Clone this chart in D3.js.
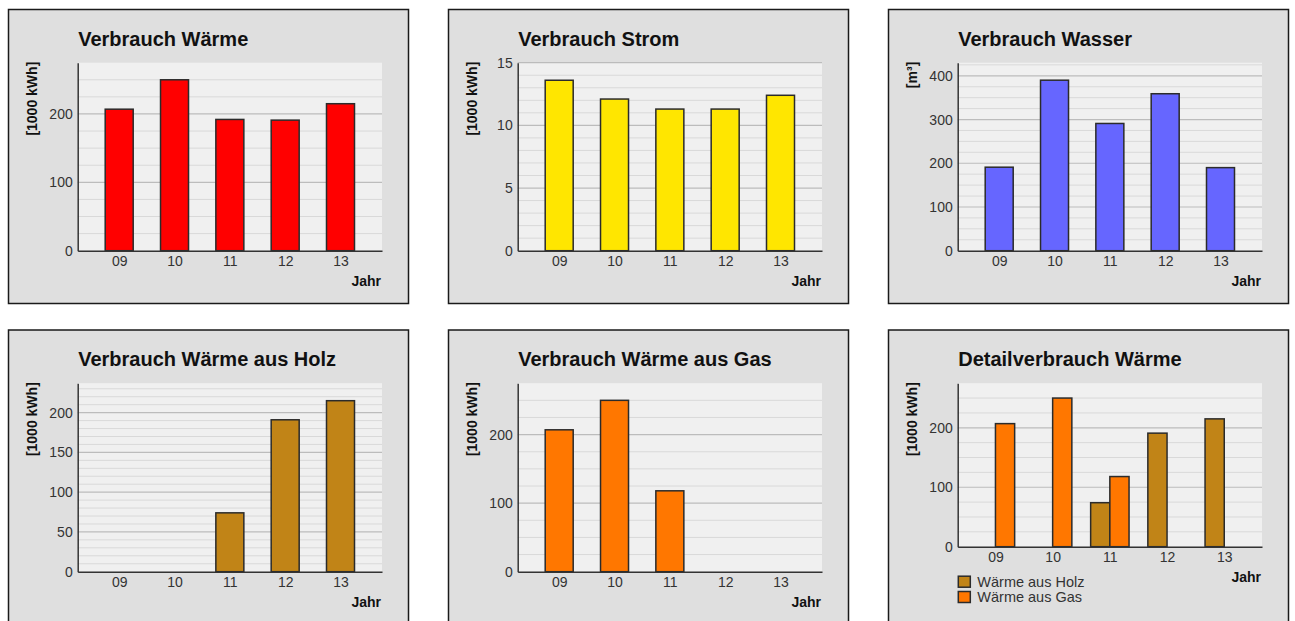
<!DOCTYPE html>
<html>
<head>
<meta charset="utf-8">
<script src="https://cdn.jsdelivr.net/npm/d3@7"></script>
<style>
  html, body { margin: 0; padding: 0; background: #ffffff; }
  svg { display: block; font-family: "Liberation Sans", Arial, sans-serif; }
</style>
</head>
<body>
<svg id="chart" width="1295" height="621"></svg>
<script>
// Jahre (x-Achse)
const years = ["09", "10", "11", "12", "13"];

// Verbrauchswerte
const waerme = [207, 250, 192, 191, 215];        // 1000 kWh
const strom = [13.6, 12.1, 11.3, 11.3, 12.4];    // 1000 kWh
const wasser = [191, 390, 291, 359, 190];        // m³
const waermeHolz = [0, 0, 74, 191, 215];         // 1000 kWh
const waermeGas = [207, 250, 118, 0, 0];         // 1000 kWh

// Achsenbeschriftungen der y-Achsen
const ticksWaerme = [0, 100, 200];
const ticksStrom = [0, 5, 10, 15];
const ticksWasser = [0, 100, 200, 300, 400];
const ticksHolz = [0, 50, 100, 150, 200];
const ticksGas = [0, 100, 200];
const ticksDetail = [0, 100, 200];

const seriesNames = ["Wärme aus Holz", "Wärme aus Gas"];

const COLORS = {
  waerme: "#ff0000",
  strom: "#ffe600",
  wasser: "#6666ff",
  holz: "#c18417",
  gas: "#ff7700"
};

const svg = d3.select("#chart");

const PANEL_W = 400, PANEL_H = 294;
const FONT = "Liberation Sans, Arial, sans-serif";

function drawPanel(opt) {
  const g = svg.append("g").attr("transform", `translate(${opt.x},${opt.y})`);

  g.append("rect")
    .attr("width", PANEL_W).attr("height", PANEL_H)
    .attr("fill", "#dfdfdf")
    .attr("stroke", "#1a1a1a").attr("stroke-width", 1.5);

  const left = 69.2, top = 53.2, right = 373.5;
  const bottom = opt.bottom;

  const x = d3.scalePoint().domain(years).range([left, right]).padding(opt.padding);
  const y = d3.scaleLinear().domain([0, opt.yMax]).range([bottom, top]);

  // Diagrammfläche
  g.append("rect")
    .attr("x", left).attr("y", top)
    .attr("width", right - left).attr("height", bottom - top)
    .attr("fill", "#f0f0f0");

  // Hilfslinien: feine Teilung und beschriftete Werte
  const minor = d3.range(opt.minor, opt.yMax, opt.minor).filter(v => !opt.ticks.includes(v));
  g.append("g").selectAll("line").data(minor).join("line")
    .attr("x1", left).attr("x2", right)
    .attr("y1", d => y(d)).attr("y2", d => y(d))
    .attr("stroke", "#d9d9d9").attr("stroke-width", 1);
  g.append("g").selectAll("line").data(opt.ticks.filter(v => v > 0)).join("line")
    .attr("x1", left).attr("x2", right)
    .attr("y1", d => y(d)).attr("y2", d => y(d))
    .attr("stroke", "#bcbcbc").attr("stroke-width", 1.2);

  // Balken
  const bw = opt.barWidth;
  opt.series.forEach((s, si) => {
    const offset = opt.series.length === 1 ? -bw / 2 : (si - opt.series.length / 2) * bw;
    const data = years.map((yr, i) => ({ yr, v: s.values[i] })).filter(d => d.v > 0);
    g.append("g").selectAll("rect").data(data).join("rect")
      .attr("x", d => x(d.yr) + offset)
      .attr("y", d => y(d.v))
      .attr("width", bw)
      .attr("height", d => y(0) - y(d.v))
      .attr("fill", s.color)
      .attr("stroke", "#2b2b2b").attr("stroke-width", 1.5);
  });

  // Achsen
  const yAxis = g.append("g").attr("transform", `translate(${left},0)`)
    .call(d3.axisLeft(y).tickValues(opt.ticks).tickSize(0).tickPadding(5).tickSizeOuter(0));
  yAxis.select(".domain").attr("stroke", "#333").attr("stroke-width", 1.5);
  yAxis.selectAll("text").attr("font-size", 14).attr("fill", "#333").attr("font-family", FONT);

  const xAxis = g.append("g").attr("transform", `translate(0,${bottom})`)
    .call(d3.axisBottom(x).tickSize(0).tickPadding(5.5).tickSizeOuter(0));
  xAxis.select(".domain").attr("stroke", "#333").attr("stroke-width", 1.5);
  xAxis.selectAll("text").attr("font-size", 14).attr("fill", "#333").attr("font-family", FONT);

  // Titel
  g.append("text")
    .attr("x", left + 0.5).attr("y", 36)
    .attr("font-size", 20).attr("font-weight", "bold").attr("fill", "#111")
    .text(opt.title);

  // Einheit
  g.append("text")
    .attr("transform", `translate(23.2,${top - 1}) rotate(-90)`)
    .attr("text-anchor", "end").attr("dy", "0.35em")
    .attr("font-size", 14).attr("font-weight", "bold").attr("fill", "#111")
    .text(opt.unit);

  // Achsentitel x
  g.append("text")
    .attr("x", right - 1).attr("y", bottom + 35)
    .attr("text-anchor", "end")
    .attr("font-size", 14).attr("font-weight", "bold").attr("fill", "#111")
    .text("Jahr");

  // Legende
  if (opt.legend) {
    const lg = g.append("g").attr("transform", `translate(${left + 0.6},${bottom + 29.5})`);
    const items = lg.selectAll("g").data(opt.series).join("g")
      .attr("transform", (d, i) => `translate(0,${i * 15.3})`);
    items.append("rect")
      .attr("width", 12).attr("height", 11)
      .attr("fill", d => d.color)
      .attr("stroke", "#2b2b2b").attr("stroke-width", 1.5);
    items.append("text")
      .attr("x", 19).attr("y", 10.5)
      .attr("font-size", 14.5).attr("fill", "#333")
      .text(d => d.name);
  }
}

const col = [8.5, 448.5, 888.5];
const row = [9.5, 330];

drawPanel({
  x: col[0], y: row[0], bottom: 241.2, padding: 0.75, barWidth: 28,
  title: "Verbrauch Wärme", unit: "[1000 kWh]",
  yMax: 275, minor: 25, ticks: ticksWaerme,
  series: [{ name: "Wärme", values: waerme, color: COLORS.waerme }]
});
drawPanel({
  x: col[1], y: row[0], bottom: 241.2, padding: 0.75, barWidth: 28,
  title: "Verbrauch Strom", unit: "[1000 kWh]",
  yMax: 15, minor: 1, ticks: ticksStrom,
  series: [{ name: "Strom", values: strom, color: COLORS.strom }]
});
drawPanel({
  x: col[2], y: row[0], bottom: 241.2, padding: 0.75, barWidth: 28,
  title: "Verbrauch Wasser", unit: "[m³]",
  yMax: 430, minor: 25, ticks: ticksWasser,
  series: [{ name: "Wasser", values: wasser, color: COLORS.wasser }]
});
drawPanel({
  x: col[0], y: row[1], bottom: 241.7, padding: 0.75, barWidth: 28,
  title: "Verbrauch Wärme aus Holz", unit: "[1000 kWh]",
  yMax: 237, minor: 10, ticks: ticksHolz,
  series: [{ name: seriesNames[0], values: waermeHolz, color: COLORS.holz }]
});
drawPanel({
  x: col[1], y: row[1], bottom: 241.7, padding: 0.75, barWidth: 28,
  title: "Verbrauch Wärme aus Gas", unit: "[1000 kWh]",
  yMax: 275, minor: 25, ticks: ticksGas,
  series: [{ name: seriesNames[1], values: waermeGas, color: COLORS.gas }]
});
drawPanel({
  x: col[2], y: row[1], bottom: 216.7, padding: 0.66, barWidth: 19.2,
  title: "Detailverbrauch Wärme", unit: "[1000 kWh]",
  yMax: 275, minor: 25, ticks: ticksDetail, legend: true,
  series: [
    { name: seriesNames[0], values: waermeHolz, color: COLORS.holz },
    { name: seriesNames[1], values: waermeGas, color: COLORS.gas }
  ]
});
</script>
</body>
</html>
